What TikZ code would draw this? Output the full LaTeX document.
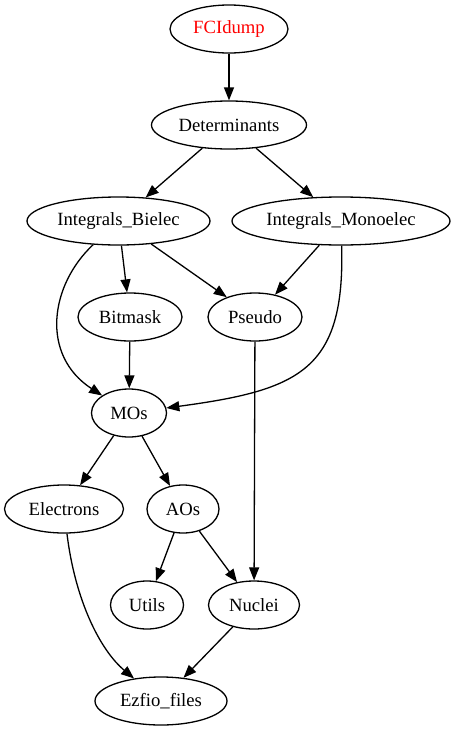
\documentclass[tikz,border=0pt]{standalone}
\usepackage{fontspec}
\setmainfont{Liberation Serif}
\usetikzlibrary{arrows.meta,shapes.geometric}
\tikzset{
  mod/.style={draw, ellipse, line width=1.3pt, inner sep=0pt, minimum height=48pt,
    font=\fontsize{18.67}{22}\selectfont},
  dep/.style={-{Triangle[length=13pt,width=10pt]}, line width=1.3pt},
}
\begin{document}
\begin{tikzpicture}[x=1pt,y=-1pt]
\useasboundingbox (0,0) rectangle (455,731);
% module nodes, one rank per row
\node[mod, minimum width=118pt, text=red] (fci)  at (229,29)  {FCIdump};
\node[mod, minimum width=155pt] (det)  at (229,125) {Determinants};
\node[mod, minimum width=183pt] (ib)   at (118.5,221) {Integrals\_Bielec};
\node[mod, minimum width=218pt] (im)   at (341,221) {Integrals\_Monoelec};
\node[mod, minimum width=104pt] (bit)  at (130,317) {Bitmask};
\node[mod, minimum width=94pt]  (pse)  at (255,317) {Pseudo};
\node[mod, minimum width=75pt]  (mos)  at (129,413) {MOs};
\node[mod, minimum width=119pt] (ele)  at (64,509)  {Electrons};
\node[mod, minimum width=72pt]  (aos)  at (183,509) {AOs};
\node[mod, minimum width=73pt]  (uti)  at (147,605) {Utils};
\node[mod, minimum width=91pt]  (nuc)  at (254,605) {Nuclei};
\node[mod, minimum width=132pt] (ezf)  at (161,701) {Ezfio\_files};
% dependencies
\draw[dep] (fci) -- (det);
\draw[dep] (det) -- (ib);
\draw[dep] (det) -- (im);
\draw[dep] (ib) -- (bit);
\draw[dep] (ib) -- (pse);
\draw[dep] (ib) .. controls (50,285) and (40,355) .. (mos);
\draw[dep] (im) -- (pse);
\draw[dep] (im) .. controls (345,370) and (300,390) .. (mos);
\draw[dep] (bit) -- (mos);
\draw[dep] (pse) -- (nuc);
\draw[dep] (mos) -- (ele);
\draw[dep] (mos) -- (aos);
\draw[dep] (ele) .. controls (75,600) and (100,650) .. (ezf);
\draw[dep] (aos) -- (uti);
\draw[dep] (aos) -- (nuc);
\draw[dep] (nuc) -- (ezf);
\end{tikzpicture}
\end{document}
